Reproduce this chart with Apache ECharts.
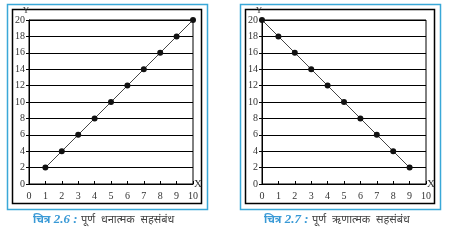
<!DOCTYPE html>
<html><head><meta charset="utf-8">
<script src="https://cdn.jsdelivr.net/npm/echarts@6/dist/echarts.min.js"></script>
<style>html,body{margin:0;padding:0;background:#fff}#c{width:459px;height:240px}</style>
</head><body><div id="c"></div>
<script>
const posX = [1,2,3,4,5,6,7,8,9,10];
const posY = [2,4,6,8,10,12,14,16,18,20];
const negX = [0,1,2,3,4,5,6,7,8,9];
const negY = [20,18,16,14,12,10,8,6,4,2];
const captionWord = ['चित्र', 'चित्र'];
const captionNum = ['2.6', '2.7'];
const captionText = [['पूर्ण','धनात्मक','सहसंबंध'], ['पूर्ण','ऋणात्मक','सहसंबंध']];

const chart = echarts.init(document.getElementById('c'), null, {renderer:'canvas'});
const serif = '"Liberation Serif", "DejaVu Serif", serif';
const sans = '"Noto Sans", "DejaVu Sans", sans-serif';
function xAx(i){return {gridIndex:i,type:'value',min:0,max:10,interval:1,
  name:'X',nameLocation:'end',nameGap:1,
  nameTextStyle:{fontFamily:serif,fontSize:11,color:'#333',padding:[0,0,6,0]},
  axisLine:{lineStyle:{color:'#000',width:1}},
  axisTick:{show:true,inside:true,length:3,lineStyle:{color:'#000'}},
  axisLabel:{fontFamily:serif,fontSize:10,color:'#333',margin:7},
  splitLine:{show:false}};}
function yAx(i){return {gridIndex:i,type:'value',min:0,max:20,interval:2,
  name:'Y',nameLocation:'end',nameGap:0,
  nameTextStyle:{fontFamily:serif,fontSize:9,color:'#333',padding:[0,6,0,0]},
  axisLine:{lineStyle:{color:'#000',width:1}},
  axisTick:{show:true,length:3,lineStyle:{color:'#000'}},
  axisLabel:{fontFamily:serif,fontSize:10,color:'#333',margin:4},
  splitLine:{show:true,lineStyle:{color:'#000',width:1}}};}
function ser(i,xs,ys){return {type:'line',xAxisIndex:i,yAxisIndex:i,
  data:xs.map((x,k)=>[x,ys[k]]),symbol:'circle',symbolSize:6,
  lineStyle:{color:'#444',width:1},itemStyle:{color:'#111'},z:5};}
function cap(x,i){return {type:'text',left:x,top:213,style:{
  rich:{w:{fontFamily:sans,fontStyle:'italic',fontWeight:'bold',fontSize:11,fill:'#3a9ad6'},
        a:{fontFamily:serif,fontStyle:'italic',fontWeight:'bold',fontSize:13,fill:'#3a9ad6'},
        b:{fontFamily:sans,fontSize:11,fill:'#444'}},
  text:'{w|'+captionWord[i]+'} {a|'+captionNum[i]+' :} {b|'+captionText[i].join('  ')+'}'}};}
chart.setOption({
  animation:false,
  grid:[{left:29,right:266,top:20,bottom:56,show:true,borderColor:'#000',borderWidth:1},
        {left:262,right:33,top:20,bottom:56,show:true,borderColor:'#000',borderWidth:1}],
  xAxis:[xAx(0),xAx(1)],
  yAxis:[yAx(0),yAx(1)],
  series:[ser(0,posX,posY),ser(1,negX,negY)],
  graphic:[
    {type:'rect',shape:{x:7.5,y:4.5,width:200,height:205},style:{fill:'none',stroke:'#3aa8d8',lineWidth:1.5}},
    {type:'rect',shape:{x:12.5,y:9.5,width:189,height:194},style:{fill:'none',stroke:'#000',lineWidth:1.5}},
    {type:'rect',shape:{x:240.5,y:4.5,width:200,height:205},style:{fill:'none',stroke:'#3aa8d8',lineWidth:1.5}},
    {type:'rect',shape:{x:245.5,y:9.5,width:189,height:194},style:{fill:'none',stroke:'#000',lineWidth:1.5}},
    cap(33,0), cap(264,1)
  ]
});
</script></body></html>
